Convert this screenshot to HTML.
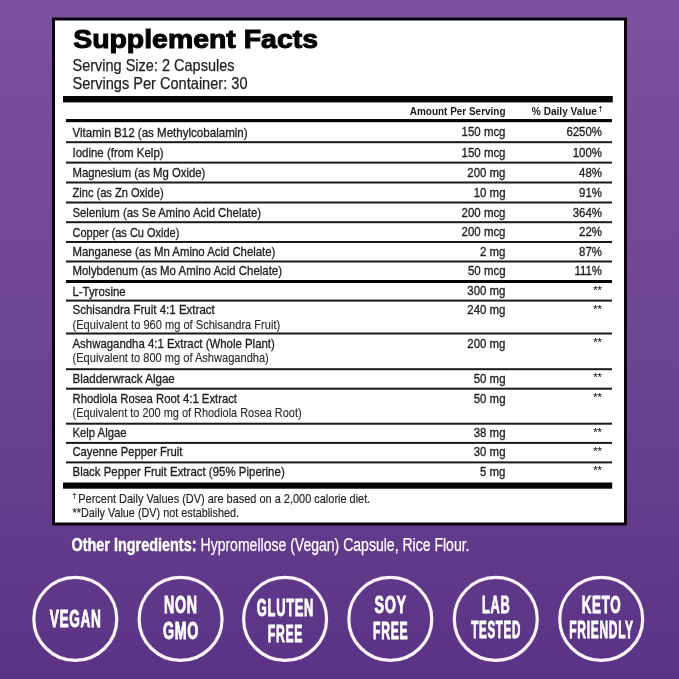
<!DOCTYPE html>
<html><head><meta charset="utf-8"><title>Supplement Facts</title>
<style>
html,body{margin:0;padding:0;width:679px;height:679px;overflow:hidden;background:#6b4492}
svg{display:block;will-change:transform}
text{font-family:"Liberation Sans",Arial,sans-serif}
</style></head><body>
<svg width="679" height="679" viewBox="0 0 679 679">
<defs>
<linearGradient id="bg" x1="0" y1="0" x2="0" y2="1">
<stop offset="0" stop-color="#7a519e"/>
<stop offset="0.5" stop-color="#6c4593"/>
<stop offset="1" stop-color="#5b3386"/>
</linearGradient>
</defs>
<rect x="0" y="0" width="679" height="679" fill="url(#bg)"/>
<rect x="53.5" y="19" width="572" height="505" fill="#fff" stroke="#0a0410" stroke-width="3"/>
<text x="73.2" y="48.2" font-size="25.6" font-weight="700" fill="#050505" stroke="#050505" stroke-width="1" textLength="244.8" lengthAdjust="spacingAndGlyphs">Supplement Facts</text>
<g fill="#222" stroke="#222" stroke-width="0.25" font-size="16.5"><text x="72.5" y="70.6" textLength="162" lengthAdjust="spacingAndGlyphs">Serving Size: 2 Capsules</text><text x="72.5" y="88.6" textLength="175" lengthAdjust="spacingAndGlyphs">Servings Per Container: 30</text></g>
<rect x="63" y="96" width="549.8" height="6.4" fill="#050505"/>
<rect x="66" y="119" width="546" height="3.2" fill="#050505"/>
<rect x="66" y="280" width="546" height="3" fill="#050505"/>
<rect x="63" y="482.5" width="549.2" height="6.2" fill="#050505"/>
<rect x="66" y="141.2" width="546" height="2" fill="#1a1a1a"/>
<rect x="66" y="161.6" width="546" height="2" fill="#1a1a1a"/>
<rect x="66" y="181.5" width="546" height="2" fill="#1a1a1a"/>
<rect x="66" y="201.5" width="546" height="2" fill="#1a1a1a"/>
<rect x="66" y="221.2" width="546" height="2" fill="#1a1a1a"/>
<rect x="66" y="241.0" width="546" height="2" fill="#1a1a1a"/>
<rect x="66" y="260.5" width="546" height="2" fill="#1a1a1a"/>
<rect x="66" y="299.6" width="546" height="2" fill="#1a1a1a"/>
<rect x="66" y="332.5" width="546" height="2" fill="#1a1a1a"/>
<rect x="66" y="368.2" width="546" height="2" fill="#1a1a1a"/>
<rect x="66" y="387.7" width="546" height="2" fill="#1a1a1a"/>
<rect x="66" y="422.7" width="546" height="2" fill="#1a1a1a"/>
<rect x="66" y="441.9" width="546" height="2" fill="#1a1a1a"/>
<rect x="66" y="461.4" width="546" height="2" fill="#1a1a1a"/>
<g fill="#1a1a1a" font-size="11" font-weight="700"><text x="505.5" y="114.6" text-anchor="end" transform="translate(505.5 0) scale(0.905 1) translate(-505.5 0)">Amount Per Serving</text><text x="597" y="114.6" text-anchor="end" transform="translate(597 0) scale(0.92 1) translate(-597 0)">% Daily Value</text><text x="598.6" y="111.2" font-size="7.5" font-weight="700">†</text></g>
<g fill="#1e1e1e" stroke="#1e1e1e" stroke-width="0.32" font-size="12.8">
<text x="72.5" y="136.5" textLength="175.1" lengthAdjust="spacingAndGlyphs">Vitamin B12 (as Methylcobalamin)</text>
<text x="505.5" y="136.5" text-anchor="end" transform="translate(505.5 0) scale(0.895 1) translate(-505.5 0)">150 mcg</text>
<text x="602" y="136.5" text-anchor="end" transform="translate(602 0) scale(0.895 1) translate(-602 0)">6250%</text>
<text x="72.5" y="156.8" textLength="91.1" lengthAdjust="spacingAndGlyphs">Iodine (from Kelp)</text>
<text x="505.5" y="156.8" text-anchor="end" transform="translate(505.5 0) scale(0.895 1) translate(-505.5 0)">150 mcg</text>
<text x="602" y="156.8" text-anchor="end" transform="translate(602 0) scale(0.895 1) translate(-602 0)">100%</text>
<text x="72.5" y="177.0" textLength="132.9" lengthAdjust="spacingAndGlyphs">Magnesium (as Mg Oxide)</text>
<text x="505.5" y="177.0" text-anchor="end" transform="translate(505.5 0) scale(0.895 1) translate(-505.5 0)">200 mg</text>
<text x="602" y="177.0" text-anchor="end" transform="translate(602 0) scale(0.895 1) translate(-602 0)">48%</text>
<text x="72.5" y="196.9" textLength="91.1" lengthAdjust="spacingAndGlyphs">Zinc (as Zn Oxide)</text>
<text x="505.5" y="196.9" text-anchor="end" transform="translate(505.5 0) scale(0.895 1) translate(-505.5 0)">10 mg</text>
<text x="602" y="196.9" text-anchor="end" transform="translate(602 0) scale(0.895 1) translate(-602 0)">91%</text>
<text x="72.5" y="216.7" textLength="188.5" lengthAdjust="spacingAndGlyphs">Selenium (as Se Amino Acid Chelate)</text>
<text x="505.5" y="216.7" text-anchor="end" transform="translate(505.5 0) scale(0.895 1) translate(-505.5 0)">200 mcg</text>
<text x="602" y="216.7" text-anchor="end" transform="translate(602 0) scale(0.895 1) translate(-602 0)">364%</text>
<text x="72.5" y="236.5" textLength="106.9" lengthAdjust="spacingAndGlyphs">Copper (as Cu Oxide)</text>
<text x="505.5" y="236.5" text-anchor="end" transform="translate(505.5 0) scale(0.895 1) translate(-505.5 0)">200 mcg</text>
<text x="602" y="236.5" text-anchor="end" transform="translate(602 0) scale(0.895 1) translate(-602 0)">22%</text>
<text x="72.5" y="256.2" textLength="202.9" lengthAdjust="spacingAndGlyphs">Manganese (as Mn Amino Acid Chelate)</text>
<text x="505.5" y="256.2" text-anchor="end" transform="translate(505.5 0) scale(0.895 1) translate(-505.5 0)">2 mg</text>
<text x="602" y="256.2" text-anchor="end" transform="translate(602 0) scale(0.895 1) translate(-602 0)">87%</text>
<text x="72.5" y="275.3" textLength="209.5" lengthAdjust="spacingAndGlyphs">Molybdenum (as Mo Amino Acid Chelate)</text>
<text x="505.5" y="275.3" text-anchor="end" transform="translate(505.5 0) scale(0.895 1) translate(-505.5 0)">50 mcg</text>
<text x="602" y="275.3" text-anchor="end" transform="translate(602 0) scale(0.895 1) translate(-602 0)">111%</text>
<text x="72.5" y="295.5" textLength="53.1" lengthAdjust="spacingAndGlyphs">L-Tyrosine</text>
<text x="505.5" y="295.5" text-anchor="end" transform="translate(505.5 0) scale(0.895 1) translate(-505.5 0)">300 mg</text>
<text x="601.8" y="294.0" font-size="11.5" stroke-width="0.15" text-anchor="end" transform="translate(601.8 0) scale(0.95 1) translate(-601.8 0)">**</text>
<text x="72.5" y="314.4" textLength="142.3" lengthAdjust="spacingAndGlyphs">Schisandra Fruit 4:1 Extract</text>
<text x="72.5" y="328.6" font-size="12.4" fill="#2a2a2a" stroke="#2a2a2a" stroke-width="0.12" textLength="207.7" lengthAdjust="spacingAndGlyphs">(Equivalent to 960 mg of Schisandra Fruit)</text>
<text x="505.5" y="314.4" text-anchor="end" transform="translate(505.5 0) scale(0.895 1) translate(-505.5 0)">240 mg</text>
<text x="601.8" y="312.9" font-size="11.5" stroke-width="0.15" text-anchor="end" transform="translate(601.8 0) scale(0.95 1) translate(-601.8 0)">**</text>
<text x="72.5" y="347.7" textLength="202.3" lengthAdjust="spacingAndGlyphs">Ashwagandha 4:1 Extract (Whole Plant)</text>
<text x="72.5" y="361.9" font-size="12.4" fill="#2a2a2a" stroke="#2a2a2a" stroke-width="0.12" textLength="196.3" lengthAdjust="spacingAndGlyphs">(Equivalent to 800 mg of Ashwagandha)</text>
<text x="505.5" y="347.7" text-anchor="end" transform="translate(505.5 0) scale(0.895 1) translate(-505.5 0)">200 mg</text>
<text x="601.8" y="346.2" font-size="11.5" stroke-width="0.15" text-anchor="end" transform="translate(601.8 0) scale(0.95 1) translate(-601.8 0)">**</text>
<text x="72.5" y="382.6" textLength="102.3" lengthAdjust="spacingAndGlyphs">Bladderwrack Algae</text>
<text x="505.5" y="382.6" text-anchor="end" transform="translate(505.5 0) scale(0.895 1) translate(-505.5 0)">50 mg</text>
<text x="601.8" y="381.1" font-size="11.5" stroke-width="0.15" text-anchor="end" transform="translate(601.8 0) scale(0.95 1) translate(-601.8 0)">**</text>
<text x="72.5" y="402.9" textLength="164.5" lengthAdjust="spacingAndGlyphs">Rhodiola Rosea Root 4:1 Extract</text>
<text x="72.5" y="417.1" font-size="12.4" fill="#2a2a2a" stroke="#2a2a2a" stroke-width="0.12" textLength="229.1" lengthAdjust="spacingAndGlyphs">(Equivalent to 200 mg of Rhodiola Rosea Root)</text>
<text x="505.5" y="402.9" text-anchor="end" transform="translate(505.5 0) scale(0.895 1) translate(-505.5 0)">50 mg</text>
<text x="601.8" y="401.4" font-size="11.5" stroke-width="0.15" text-anchor="end" transform="translate(601.8 0) scale(0.95 1) translate(-601.8 0)">**</text>
<text x="72.5" y="437.2" textLength="54.0" lengthAdjust="spacingAndGlyphs">Kelp Algae</text>
<text x="505.5" y="437.2" text-anchor="end" transform="translate(505.5 0) scale(0.895 1) translate(-505.5 0)">38 mg</text>
<text x="601.8" y="435.7" font-size="11.5" stroke-width="0.15" text-anchor="end" transform="translate(601.8 0) scale(0.95 1) translate(-601.8 0)">**</text>
<text x="72.5" y="456.2" textLength="110.0" lengthAdjust="spacingAndGlyphs">Cayenne Pepper Fruit</text>
<text x="505.5" y="456.2" text-anchor="end" transform="translate(505.5 0) scale(0.895 1) translate(-505.5 0)">30 mg</text>
<text x="601.8" y="454.7" font-size="11.5" stroke-width="0.15" text-anchor="end" transform="translate(601.8 0) scale(0.95 1) translate(-601.8 0)">**</text>
<text x="72.5" y="475.8" textLength="212.2" lengthAdjust="spacingAndGlyphs">Black Pepper Fruit Extract (95% Piperine)</text>
<text x="505.5" y="475.8" text-anchor="end" transform="translate(505.5 0) scale(0.895 1) translate(-505.5 0)">5 mg</text>
<text x="601.8" y="474.3" font-size="11.5" stroke-width="0.15" text-anchor="end" transform="translate(601.8 0) scale(0.95 1) translate(-601.8 0)">**</text>
</g>
<g fill="#1e1e1e" stroke="#222" stroke-width="0.15" font-size="12.4"><text x="72.3" y="498" font-size="8">†</text><text x="78.3" y="502.5" textLength="292" lengthAdjust="spacingAndGlyphs">Percent Daily Values (DV) are based on a 2,000 calorie diet.</text><text x="72.5" y="517.4" textLength="166.5" lengthAdjust="spacingAndGlyphs">**Daily Value (DV) not established.</text></g>
<g fill="#fff" font-size="18"><text x="71.5" y="550.8" font-weight="700" stroke="#fff" stroke-width="0.45" textLength="125" lengthAdjust="spacingAndGlyphs">Other Ingredients:</text><text x="200.5" y="550.8" stroke="#fff" stroke-width="0.25" textLength="269" lengthAdjust="spacingAndGlyphs">Hypromellose (Vegan) Capsule, Rice Flour.</text></g>
<g fill="none" stroke="#fdf3fb" stroke-width="3.2"><circle cx="75.3" cy="618.9" r="41.5"/><circle cx="180.6" cy="618.9" r="41.5"/><circle cx="285.1" cy="618.9" r="41.5"/><circle cx="390.3" cy="618.9" r="41.5"/><circle cx="495.8" cy="618.9" r="41.5"/><circle cx="601.2" cy="618.9" r="41.5"/></g>
<g fill="#fff" stroke="#fff" stroke-width="0.9" font-size="23.6" font-weight="700" text-anchor="middle"><text x="0" y="0" transform="translate(75.3 626.8) scale(0.5768 1)" textLength="88.8" lengthAdjust="spacing">VEGAN</text><text x="0" y="0" transform="translate(180.6 613.4) scale(0.6026 1)" textLength="54.8" lengthAdjust="spacing">NON</text><text x="0" y="0" transform="translate(180.6 639.3) scale(0.6033 1)" textLength="58.7" lengthAdjust="spacing">GMO</text><text x="0" y="0" transform="translate(285.1 615.8) scale(0.5474 1)" textLength="103.4" lengthAdjust="spacing">GLUTEN</text><text x="0" y="0" transform="translate(285.1 641.7) scale(0.5164 1)" textLength="67.0" lengthAdjust="spacing">FREE</text><text x="0" y="0" transform="translate(390.3 613.4) scale(0.6061 1)" textLength="52.1" lengthAdjust="spacing">SOY</text><text x="0" y="0" transform="translate(390.3 639.3) scale(0.5164 1)" textLength="67.0" lengthAdjust="spacing">FREE</text><text x="0" y="0" transform="translate(495.8 612.6) scale(0.5402 1)" textLength="51.1" lengthAdjust="spacing">LAB</text><text x="0" y="0" transform="translate(495.8 638.0) scale(0.4910 1)" textLength="100.2" lengthAdjust="spacing">TESTED</text><text x="0" y="0" transform="translate(601.2 612.5) scale(0.5666 1)" textLength="68.8" lengthAdjust="spacing">KETO</text><text x="0" y="0" transform="translate(601.2 637.6) scale(0.5086 1)" textLength="125.4" lengthAdjust="spacing">FRIENDLY</text></g>
</svg>
</body></html>
